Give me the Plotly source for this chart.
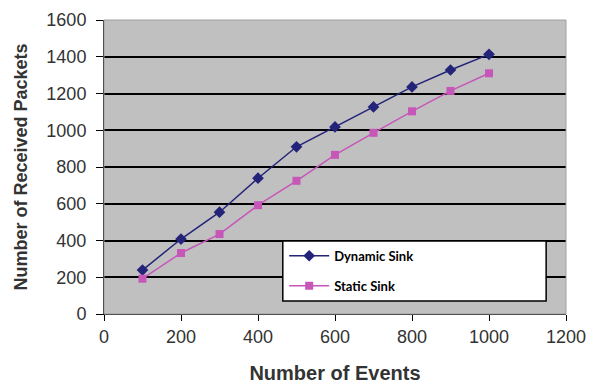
import plotly.graph_objects as go

events = [100, 200, 300, 400, 500, 600, 700, 800, 900, 1000]
dynamic_sink = [239, 408, 554, 739, 910, 1018, 1127, 1236, 1328, 1413]
static_sink = [192, 332, 435, 592, 725, 866, 986, 1103, 1214, 1310]

fig = go.Figure()
fig.add_trace(go.Scatter(x=events, y=dynamic_sink, mode="lines+markers", name="<b>Dynamic Sink</b>",
                         legendgroup="a",
                         line=dict(color="#232379", width=1.5),
                         marker=dict(symbol="diamond", size=9, color="#232379")))
fig.add_trace(go.Scatter(x=events, y=static_sink, mode="lines+markers", name="<b>Static Sink</b>",
                         legendgroup="b",
                         line=dict(color="#C656B8", width=1.5),
                         marker=dict(symbol="square", size=8, color="#C656B8")))

fig.update_layout(
    width=602, height=385,
    margin=dict(l=104, r=36, t=20, b=71),
    paper_bgcolor="white", plot_bgcolor="#C0C0C0",
    font=dict(family="Liberation Sans, Arial", color="#222"),
    xaxis=dict(range=[0, 1200], dtick=200, showgrid=False, zeroline=False, automargin=False,
               ticks="outside", ticklen=6, tickcolor="black", showline=True, linecolor="black",
               tickfont=dict(size=18, color="#333"),
               title=dict(text="<b>Number of Events</b>", font=dict(size=20, color="#333"), standoff=20)),
    yaxis=dict(range=[0, 1600], dtick=200, showgrid=True, gridcolor="black", gridwidth=1.5,
               zeroline=False, ticks="outside", ticklen=7, tickcolor="black", automargin=False,
               showline=True, linecolor="black", ticklabelstandoff=6,
               tickfont=dict(size=18, color="#333"),
               title=dict(text="<b>Number of Received Packets</b>", font=dict(size=18, color="#333"), standoff=14)),
    legend=dict(x=0.39, y=0.249, xanchor="left", yanchor="top",
                bgcolor="rgba(0,0,0,0)", borderwidth=0,
                font=dict(family="Lato, Open Sans", size=13, color="black"),
                tracegroupgap=10, itemwidth=40),
    showlegend=True,
)
fig.add_shape(type="rect", xref="paper", yref="paper", x0=0, y0=0, x1=1, y1=1,
              line=dict(color="#A0A0A0", width=1))
fig.add_shape(type="rect", xref="paper", yref="paper", x0=0.387, y0=0.044, x1=0.957, y1=0.248,
              line=dict(color="black", width=1.5), fillcolor="white", layer="above")
fig.write_html("out.html")
